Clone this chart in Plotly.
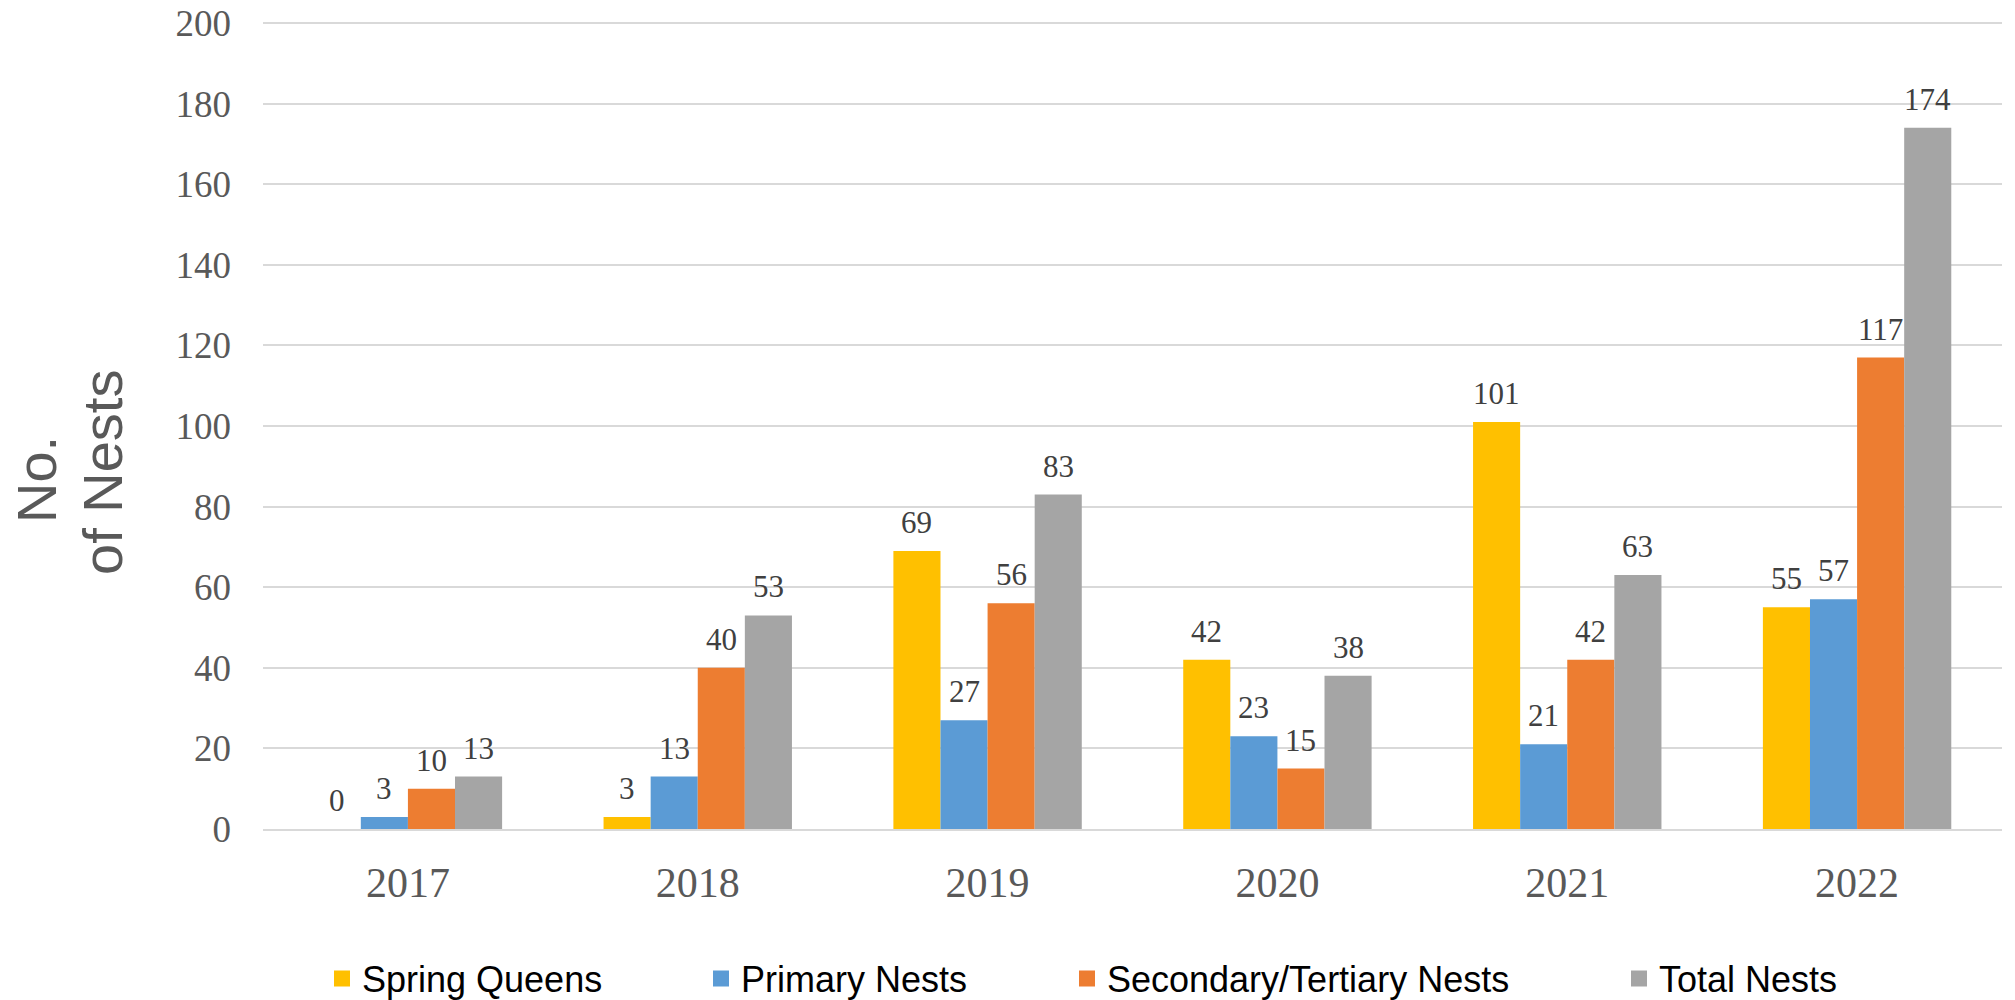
import plotly.graph_objects as go

years = ["2017", "2018", "2019", "2020", "2021", "2022"]
series_names = ["Spring Queens", "Primary Nests", "Secondary/Tertiary Nests", "Total Nests"]
spring_queens = [0, 3, 69, 42, 101, 55]
primary_nests = [3, 13, 27, 23, 21, 57]
secondary_nests = [10, 40, 56, 15, 42, 117]
total_nests = [13, 53, 83, 38, 63, 174]
y_ticks = [0, 20, 40, 60, 80, 100, 120, 140, 160, 180, 200]
y_title_lines = ["No.", "of Nests"]

colors = ["#FFC000", "#5B9BD5", "#ED7D31", "#A5A5A5"]
all_series = [spring_queens, primary_nests, secondary_nests, total_nests]

# body margin is removed via post_script, so the figure fills the viewport
W, H = 2015, 1000
ML, MR, MT, MB = 263, 13, 21, 171
PW, PH = W - ML - MR, H - MT - MB
BARGAP = 0.35
n = len(all_series)
bar_w = (1 - BARGAP) / n

fig = go.Figure()
for k, (name, vals, col) in enumerate(zip(series_names, all_series, colors)):
    fig.add_trace(go.Bar(
        x=years, y=vals, name=name, marker=dict(color=col, line=dict(width=0)),
        showlegend=False, hoverinfo="x+y+name",
    ))

# legend entries (one legend each to match the reference spacing)
legend_left_px = [322, 701, 1067, 1619]
for k, (name, col) in enumerate(zip(series_names, colors)):
    lid = "legend" if k == 0 else f"legend{k+1}"
    fig.add_trace(go.Scatter(
        x=[None], y=[None], mode="markers", name=name,
        marker=dict(symbol="square", size=19, color=col),
        showlegend=True, legend=lid, hoverinfo="skip",
    ))
    fig.update_layout(**{lid: dict(
        xref="container", yref="container",
        x=legend_left_px[k] / W, y=1 - 978.5 / H,
        xanchor="left", yanchor="middle",
        orientation="h", bgcolor="rgba(0,0,0,0)",
        font=dict(family="Liberation Sans, Arial, sans-serif", size=36, color="#000000"),
        itemsizing="trace",
    )})

# data labels
annotations = []
for k, vals in enumerate(all_series):
    for i, v in enumerate(vals):
        annotations.append(dict(
            x=i + (k - (n - 1) / 2) * bar_w, y=v, xref="x", yref="y",
            text=str(v), showarrow=False, yanchor="bottom", xanchor="center",
            yshift=9,
            font=dict(family="Liberation Serif, Times New Roman, serif", size=31, color="#404040"),
        ))

# y axis title (two lines, placed separately to match the tighter line spacing)
title_centers = [(37, 480), (102, 473)]
for txt, (cx, cy) in zip(y_title_lines, title_centers):
    annotations.append(dict(
        xref="paper", yref="paper",
        x=(cx - ML) / PW, y=(H - MB - cy) / PH,
        text=txt, textangle=-90, showarrow=False,
        xanchor="center", yanchor="middle",
        font=dict(family="Liberation Sans, Arial, sans-serif", size=56, color="#595959"),
    ))

fig.update_layout(
    width=W, height=H,
    margin=dict(l=ML, r=MR, t=MT, b=MB, pad=0, autoexpand=False),
    paper_bgcolor="white", plot_bgcolor="white",
    barmode="group", bargap=BARGAP, bargroupgap=0,
    annotations=annotations,
    showlegend=True,
)
fig.update_xaxes(
    type="category", categoryorder="array", categoryarray=years,
    showgrid=False, showline=True, linecolor="#D9D9D9", linewidth=1.5,
    ticks="", ticklabelstandoff=16,
    tickfont=dict(family="Liberation Serif, Times New Roman, serif", size=42, color="#595959"),
    range=[-0.5, 5.5],
)
fig.update_yaxes(
    range=[0, 200.5], tickvals=y_ticks,
    showgrid=True, gridcolor="#D9D9D9", gridwidth=1.5,
    zeroline=False, showline=False, ticks="", ticklabelstandoff=31,
    ticklabeloverflow="allow",
    tickfont=dict(family="Liberation Serif, Times New Roman, serif", size=37, color="#595959"),
)

fig.write_html(
    "out.html",
    config={"displayModeBar": False},
    post_script="document.body.style.margin='0';",
)
